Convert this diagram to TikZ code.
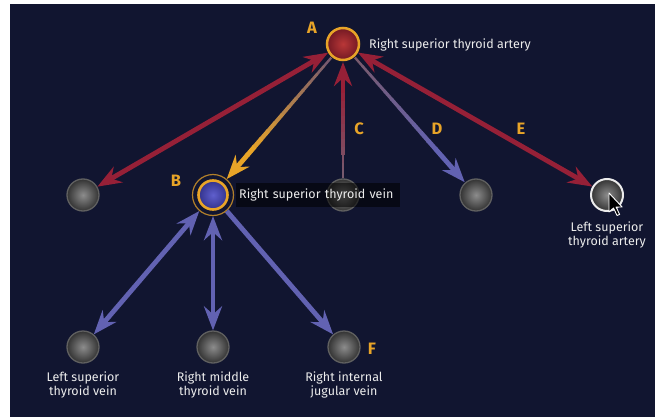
\documentclass[tikz,border=0pt]{standalone}
\usepackage{fontspec}
\setmainfont{Fira Sans}
\usetikzlibrary{arrows.meta,calc}
\definecolor{bg}{RGB}{17,21,48}
\definecolor{artred}{RGB}{150,32,55}
\definecolor{veinblue}{RGB}{98,98,178}
\definecolor{ringor}{RGB}{232,164,40}
\definecolor{txt}{RGB}{236,236,236}
\definecolor{stemgrey}{RGB}{120,90,110}
\newcommand{\taperline}[4]{%
  \foreach \i in {0,...,11}{%
    \pgfmathsetmacro\ta{\i*0.8/12}%
    \pgfmathsetmacro\tb{(\i+1)*0.8/12+0.004}%
    \pgfmathsetmacro\w{2.4+2.4*\i/11}%
    \pgfmathsetmacro\p{100*\i/11}%
    \draw[line width=\w pt, line cap=butt, color=#4!\p!#3] ($(#1)!\ta!(#2)$) -- ($(#1)!\tb!(#2)$);
  }%
  \draw[line width=4.8pt, color=#4, -{Stealth[length=24pt,width=18pt,inset=8pt]}] ($(#1)!0.8!(#2)$) -- (#2);
}
\begin{document}
\begin{tikzpicture}[x=1pt,y=-1pt,
  gball/.style={circle, minimum size=32pt, inner sep=0pt, draw=gray!75!black, line width=1.3pt, inner color=gray!90, outer color=gray!40!black},
  lbl/.style={text=txt, font=\fontsize{12.5}{14}\selectfont, inner sep=0pt},
  letter/.style={text=ringor, font=\fontsize{16.5}{16.5}\selectfont\bfseries, inner sep=0pt},
  tipS/.tip={Stealth[length=24pt,width=18pt,inset=8pt]},
  redarr/.style={line width=4.8pt, color=artred, tipS-tipS},
  bluearr/.style={line width=4.8pt, color=veinblue, tipS-tipS}]
\fill[white] (0,0) rectangle (655,417);
\fill[bg] (10,4) rectangle (655,417);
\useasboundingbox (0,0) rectangle (655,417);

% nodes
\node[circle, minimum size=32pt, inner sep=0pt, draw=ringor, line width=2.5pt, inner color={rgb,255:red,185;green,55;blue,55}, outer color={rgb,255:red,115;green,25;blue,35}] (A) at (343,44) {};
\node[circle, minimum size=41pt, inner sep=0pt, draw=ringor!75!bg, line width=1.2pt] (B) at (213,195) {};
\node[circle, minimum size=29pt, inner sep=0pt, draw=ringor, line width=2.6pt, inner color={rgb,255:red,95;green,95;blue,205}, outer color={rgb,255:red,50;green,50;blue,140}] (Bin) at (213,195) {};
\node[gball] (g1) at (83,195) {};
\node[gball] (g2) at (343,195) {};
\node[gball] (g3) at (476,195) {};
\node[gball, draw=white!85!gray, line width=2pt] (g4) at (607,195) {};
\node[gball] (g5) at (83,347) {};
\node[gball] (g6) at (213,347) {};
\node[gball] (g7) at (344,347) {};

% connectors
\draw[redarr] (A) -- (g1);
\draw[redarr] (A) -- (g4);
\coordinate (ab1) at ($(A)!18pt!(B)$);
\coordinate (ab2) at ($(B)!21pt!(A)$);
\taperline{ab1}{ab2}{stemgrey}{ringor}
\coordinate (c1) at ($(g2)!17pt!(A)$);
\coordinate (c2) at ($(A)!18pt!(g2)$);
\taperline{c1}{c2}{stemgrey}{artred}
\coordinate (d1) at ($(A)!18pt!(g3)$);
\coordinate (d2) at ($(g3)!17pt!(A)$);
\taperline{d1}{d2}{stemgrey}{veinblue}
\draw[bluearr] (B) -- (g5);
\draw[bluearr] (B) -- (g6);
\draw[bluearr, -tipS] (B) -- (g7);

% labels
\node[lbl, anchor=west] (tA) at (369,45) {Right superior thyroid artery};
\node[anchor=west, fill=black, fill opacity=0.55, text opacity=1, text=txt, font=\fontsize{12.5}{14}\selectfont, text width=158pt, minimum height=24pt, inner xsep=3pt, inner ysep=0pt] (tB) at (236,195) {Right superior thyroid vein};
\node[lbl, align=center] (t4) at (607,235) {Left superior\\thyroid artery};
\node[lbl, align=center] (t5) at (83,385) {Left superior\\thyroid vein};
\node[lbl, align=center] (t6) at (213,385) {Right middle\\thyroid vein};
\node[lbl, align=center] (t7) at (344,385) {Right internal\\jugular vein};

\node[letter] (LA) at (312,28) {A};
\node[letter] (LB) at (176,181) {B};
\node[letter] (LC) at (359,129) {C};
\node[letter] (LD) at (437,129) {D};
\node[letter] (LE) at (521,129) {E};
\node[letter] (LF) at (372,349) {F};

% cursor
\draw[white, fill=black, line width=0.9pt, line join=round] (609,193) -- ++(0,19) -- ++(4.5,-4) -- ++(3.5,7.5) -- ++(2.6,-1.1) -- ++(-3.5,-7.4) -- ++(6,0) -- cycle;
\end{tikzpicture}
\end{document}
